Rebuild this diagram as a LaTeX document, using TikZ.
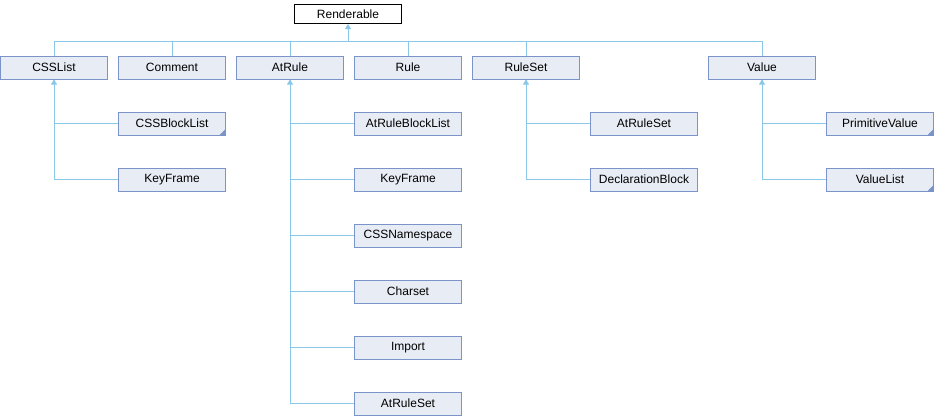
\documentclass[tikz,border=0pt]{standalone}
\usepackage{fontspec}
\setmainfont{Liberation Sans}
\usetikzlibrary{calc,arrows.meta}
\definecolor{boxfill}{HTML}{E8ECF4}
\definecolor{boxline}{HTML}{7A93C8}
\definecolor{edgeblue}{HTML}{8BC7E8}
\begin{document}
\begin{tikzpicture}[x=1pt,y=-1pt,
  cls/.style={draw=boxline,fill=boxfill,line width=1pt,rectangle,minimum width=107pt,minimum height=23pt,inner sep=0pt,font=\fontsize{12}{14}\selectfont},
  hasmore/.style={path picture={\fill[boxline] (path picture bounding box.south east) -- ++(-6pt,0pt) -- ++(6pt,6pt) -- cycle;}},
  edge/.style={draw=edgeblue,line width=1pt},
  inh/.style={edge,-{Triangle[width=6pt,length=5pt]}}]
\useasboundingbox (0,0) rectangle (934,416);

\node[cls,draw=black,fill=white,minimum height=19pt](renderable) at (348,14){Renderable};

\node[cls](csslist) at (54,67.5){CSSList};
\node[cls](comment) at (172,67.5){Comment};
\node[cls](atrule) at (290,67.5){AtRule};
\node[cls](rule) at (408,67.5){Rule};
\node[cls](ruleset) at (526,67.5){RuleSet};
\node[cls](value) at (762,67.5){Value};

\node[cls,hasmore](cssblocklist) at (172,123.5){CSSBlockList};
\node[cls](keyframeA) at (172,179.5){KeyFrame};

\node[cls](atruleblocklist) at (408,123.5){AtRuleBlockList};
\node[cls](keyframeB) at (408,179.5){KeyFrame};
\node[cls](cssnamespace) at (408,235.5){CSSNamespace};
\node[cls](charset) at (408,291.5){Charset};
\node[cls](import) at (408,347.5){Import};
\node[cls](atrulesetA) at (408,403.5){AtRuleSet};

\node[cls](atrulesetB) at (644,123.5){AtRuleSet};
\node[cls](declblock) at (644,179.5){DeclarationBlock};

\node[cls,hasmore](primitivevalue) at (880,123.5){PrimitiveValue};
\node[cls,hasmore](valuelist) at (880,179.5){ValueList};

\coordinate (bus) at ($(renderable.south)+(0,17)$);
\draw[inh] (bus) -- (renderable.south);
\foreach \n in {csslist,comment,atrule,rule,ruleset,value}
  \draw[edge] (\n.north) |- (bus);

\draw[inh] (keyframeA.west) -| (csslist.south);
\draw[edge] (cssblocklist.west) -| (csslist.south);

\draw[inh] (atrulesetA.west) -| (atrule.south);
\foreach \n in {atruleblocklist,keyframeB,cssnamespace,charset,import}
  \draw[edge] (\n.west) -| (atrule.south);

\draw[inh] (declblock.west) -| (ruleset.south);
\draw[edge] (atrulesetB.west) -| (ruleset.south);

\draw[inh] (valuelist.west) -| (value.south);
\draw[edge] (primitivevalue.west) -| (value.south);

\end{tikzpicture}
\end{document}
